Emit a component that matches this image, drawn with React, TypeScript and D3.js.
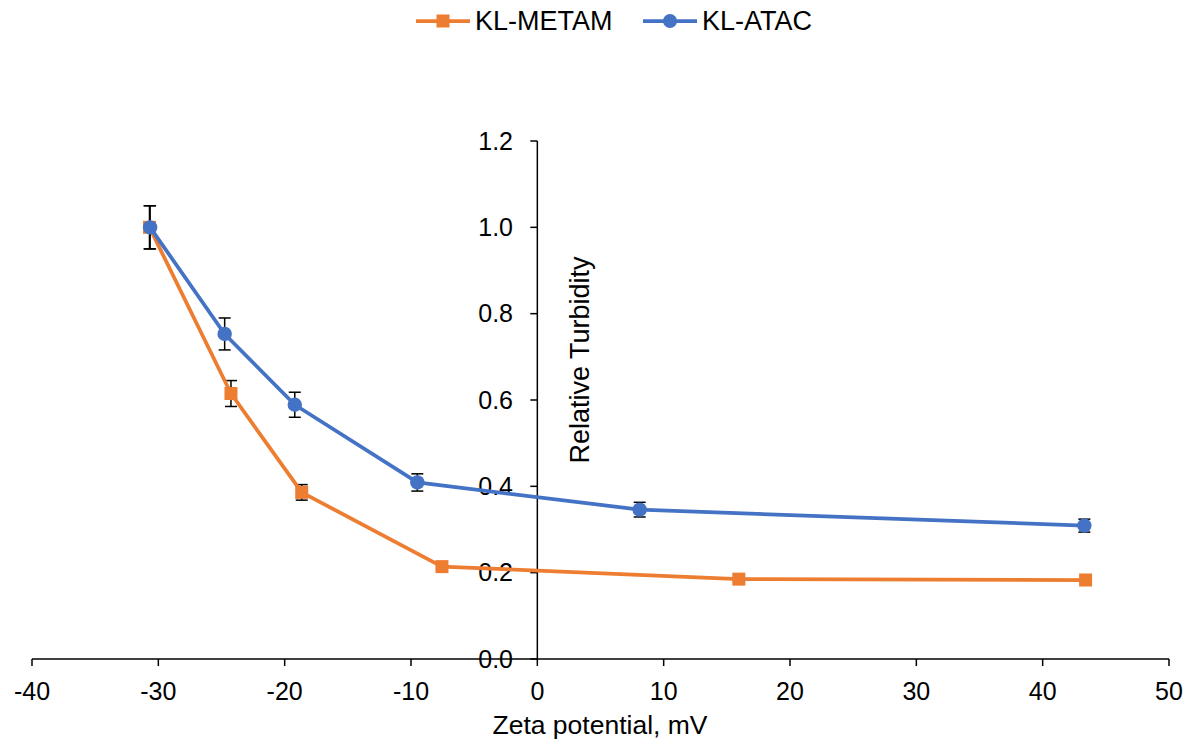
import React from "react";
import * as d3 from "d3";

const xTicks = [-40, -30, -20, -10, 0, 10, 20, 30, 40, 50];
const yTicks = [0, 0.2, 0.4, 0.6, 0.8, 1.0, 1.2];

const metamZeta = [-30.7, -24.25, -18.65, -7.55, 15.95, 43.4];
const metamTurb = [1.0, 0.615, 0.386, 0.214, 0.185, 0.183];
const metamErr = [0.05, 0.03, 0.018, 0.005, 0.004, 0.004];

const atacZeta = [-30.65, -24.75, -19.2, -9.5, 8.1, 43.3];
const atacTurb = [1.0, 0.753, 0.589, 0.409, 0.346, 0.309];
const atacErr = [0.05, 0.037, 0.029, 0.02, 0.017, 0.015];

const ORANGE = "#ED7D31";
const BLUE = "#4472C4";
const FONT = "Liberation Sans, Arial, sans-serif";

export default function App() {
  const W = 1188, H = 744;
  const x = d3.scaleLinear().domain([-40, 50]).range([32, 1169]);
  const y = d3.scaleLinear().domain([0, 1.2]).range([659, 141]);
  const x0 = x(0);
  const y0 = y(0);

  const metam = metamZeta.map((z, i) => ({ z, v: metamTurb[i], e: metamErr[i] }));
  const atac = atacZeta.map((z, i) => ({ z, v: atacTurb[i], e: atacErr[i] }));
  const line = d3.line<{ z: number; v: number }>().x(d => x(d.z)).y(d => y(d.v));

  const errBars = (data: { z: number; v: number; e: number }[], key: string) =>
    data.map((d, i) => {
      const cx = x(d.z);
      const yt = y(d.v + d.e);
      const yb = y(d.v - d.e);
      return (
        <g key={key + i} stroke="#000" strokeWidth={1.5}>
          <line x1={cx} x2={cx} y1={yt} y2={yb} />
          <line x1={cx - 6} x2={cx + 6} y1={yt} y2={yt} />
          <line x1={cx - 6} x2={cx + 6} y1={yb} y2={yb} />
        </g>
      );
    });

  return (
    <svg width={W} height={H} style={{ position: "absolute", left: 0, top: 0, background: "#fff" }} fontFamily={FONT}>
      <rect width={W} height={H} fill="#fff" />
      {/* Legend */}
      <g>
        <line x1={416} x2={470} y1={21} y2={21} stroke={ORANGE} strokeWidth={3.75} />
        <rect x={443 - 6.5} y={21 - 6.5} width={13} height={13} fill={ORANGE} />
        <text x={475} y={30} fontSize={27} fill="#000">KL-METAM</text>
        <line x1={643} x2={697} y1={21} y2={21} stroke={BLUE} strokeWidth={3.75} />
        <circle cx={670} cy={21} r={7} fill={BLUE} />
        <text x={702} y={30} fontSize={27} fill="#000">KL-ATAC</text>
      </g>

      {/* X axis */}
      <line x1={x(-40)} x2={x(50)} y1={y0} y2={y0} stroke="#000" strokeWidth={1.5} />
      {xTicks.map(t => (
        <g key={"xt" + t}>
          <line x1={x(t)} x2={x(t)} y1={y0} y2={y0 + 7} stroke="#000" strokeWidth={1.5} />
          <text x={x(t)} y={700} textAnchor="middle" fontSize={25} fill="#000">{t}</text>
        </g>
      ))}
      <text x={600} y={734} textAnchor="middle" fontSize={26.5} fill="#000">Zeta potential, mV</text>

      {/* Y axis */}
      <line x1={x0} x2={x0} y1={y(1.2)} y2={y0} stroke="#000" strokeWidth={1.5} />
      {yTicks.map(t => (
        <g key={"yt" + t}>
          <line x1={x0 - 7} x2={x0} y1={y(t)} y2={y(t)} stroke="#000" strokeWidth={1.5} />
          <text x={513} y={y(t)} dy="0.35em" textAnchor="end" fontSize={25} fill="#000">{t.toFixed(1)}</text>
        </g>
      ))}
      <text transform={`translate(589, 360) rotate(-90)`} textAnchor="middle" fontSize={27} fill="#000">Relative Turbidity</text>

      {/* Error bars */}
      {errBars(metam, "me")}
      {errBars(atac, "ae")}

      {/* KL-METAM */}
      <path d={line(metam) || ""} fill="none" stroke={ORANGE} strokeWidth={3.75} strokeLinejoin="round" />
      {metam.map((d, i) => (
        <rect key={"ms" + i} x={x(d.z) - 6.5} y={y(d.v) - 6.5} width={13} height={13} fill={ORANGE} />
      ))}

      {/* KL-ATAC */}
      <path d={line(atac) || ""} fill="none" stroke={BLUE} strokeWidth={3.75} strokeLinejoin="round" />
      {atac.map((d, i) => (
        <circle key={"ac" + i} cx={x(d.z)} cy={y(d.v)} r={7.2} fill={BLUE} />
      ))}
    </svg>
  );
}
